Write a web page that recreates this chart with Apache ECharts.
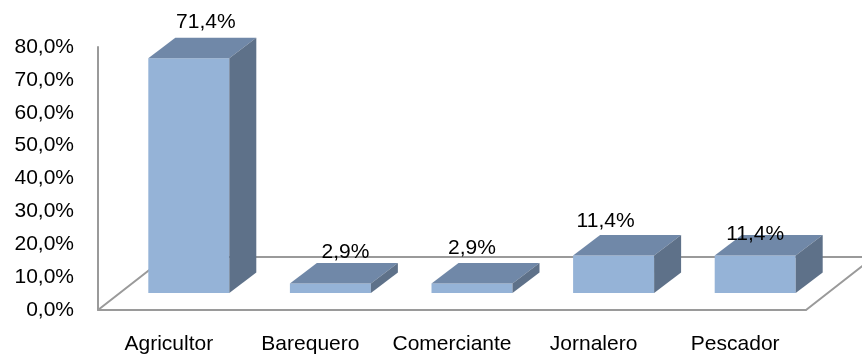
<!DOCTYPE html>
<html>
<head>
<meta charset="utf-8">
<style>html,body{margin:0;padding:0;background:#fff}#c{width:862px;height:356px}</style>
<script src="https://cdn.jsdelivr.net/npm/echarts@6/dist/echarts.min.js"></script>
</head>
<body>
<div id="c"></div>
<script>
var categories = ['Agricultor', 'Barequero', 'Comerciante', 'Jornalero', 'Pescador'];
var values = [71.4, 2.9, 2.9, 11.4, 11.4];
var labelShiftX = [37, 35, 20, 12, 20];
var labelGapY = [16, 11, 15, 14, 1];

var FONT = '"Liberation Sans", Arial, sans-serif';
var FRONT = '#95B3D7', TOP = '#7088A8', SIDE = '#5E7189', AXIS = '#9A9A9A';
var fmt = function (v) { return v.toFixed(1).replace('.', ',') + '%'; };

var chart = echarts.init(document.getElementById('c'), null, { renderer: 'canvas' });
chart.setOption({
  animation: false,
  backgroundColor: '#fff',
  grid: { left: 98, top: 47, width: 708, height: 263, containLabel: false },
  xAxis: {
    type: 'category', data: categories,
    axisLine: { show: true, onZero: false, lineStyle: { color: AXIS, width: 2 } },
    axisTick: { show: false },
    axisLabel: { color: '#000', fontFamily: FONT, fontSize: 21, margin: 24, interval: 0 }
  },
  yAxis: {
    type: 'value', min: 0, max: 80, interval: 10,
    axisLine: { show: true, lineStyle: { color: AXIS, width: 2 } },
    axisTick: { show: false },
    splitLine: { show: false },
    axisLabel: { color: '#000', fontFamily: FONT, fontSize: 21, margin: 24, padding: [4, 0, 0, 0], formatter: fmt }
  },
  series: [
    {
      type: 'custom', z: 1, silent: true, data: [0],
      encode: { x: 0 },
      renderItem: function (params) {
        var g = params.coordSys, b = g.y + g.height, dx = 68, dy = 53;
        return {
          type: 'polyline',
          shape: { points: [[g.x, b], [g.x + dx, b - dy], [g.x + g.width + dx, b - dy], [g.x + g.width, b]] },
          style: { stroke: AXIS, lineWidth: 2, fill: null }
        };
      }
    },
    {
      type: 'custom', z: 3, silent: true,
      data: values.map(function (v, i) { return [i, v]; }),
      encode: { x: 0, y: 1 },
      renderItem: function (params, api) {
        var i = api.value(0), v = api.value(1);
        var w = api.size([1, 0])[0] * 0.572;
        var lift = 17, dx = 27, dy = 20.5, sx = 20;
        var c0 = api.coord([i, 0]), c1 = api.coord([i, v]);
        var x0 = c0[0] + sx - w / 2, x1 = x0 + w, yb = c0[1] - lift, yt = c1[1] - lift;
        return {
          type: 'group',
          children: [
            { type: 'rect', shape: { x: x0, y: yt, width: w, height: yb - yt }, style: { fill: FRONT } },
            { type: 'polygon', shape: { points: [[x0, yt], [x0 + dx, yt - dy], [x1 + dx, yt - dy], [x1, yt]] }, style: { fill: TOP } },
            { type: 'polygon', shape: { points: [[x1, yt], [x1 + dx, yt - dy], [x1 + dx, yb - dy], [x1, yb]] }, style: { fill: SIDE } },
            { type: 'text', z2: 10, style: {
                x: c0[0] + labelShiftX[i], y: yt - dy - labelGapY[i],
                text: fmt(v), fill: '#000', font: '21px ' + FONT,
                align: 'center', verticalAlign: 'middle'
            } }
          ]
        };
      }
    }
  ]
});
</script>
</body>
</html>
